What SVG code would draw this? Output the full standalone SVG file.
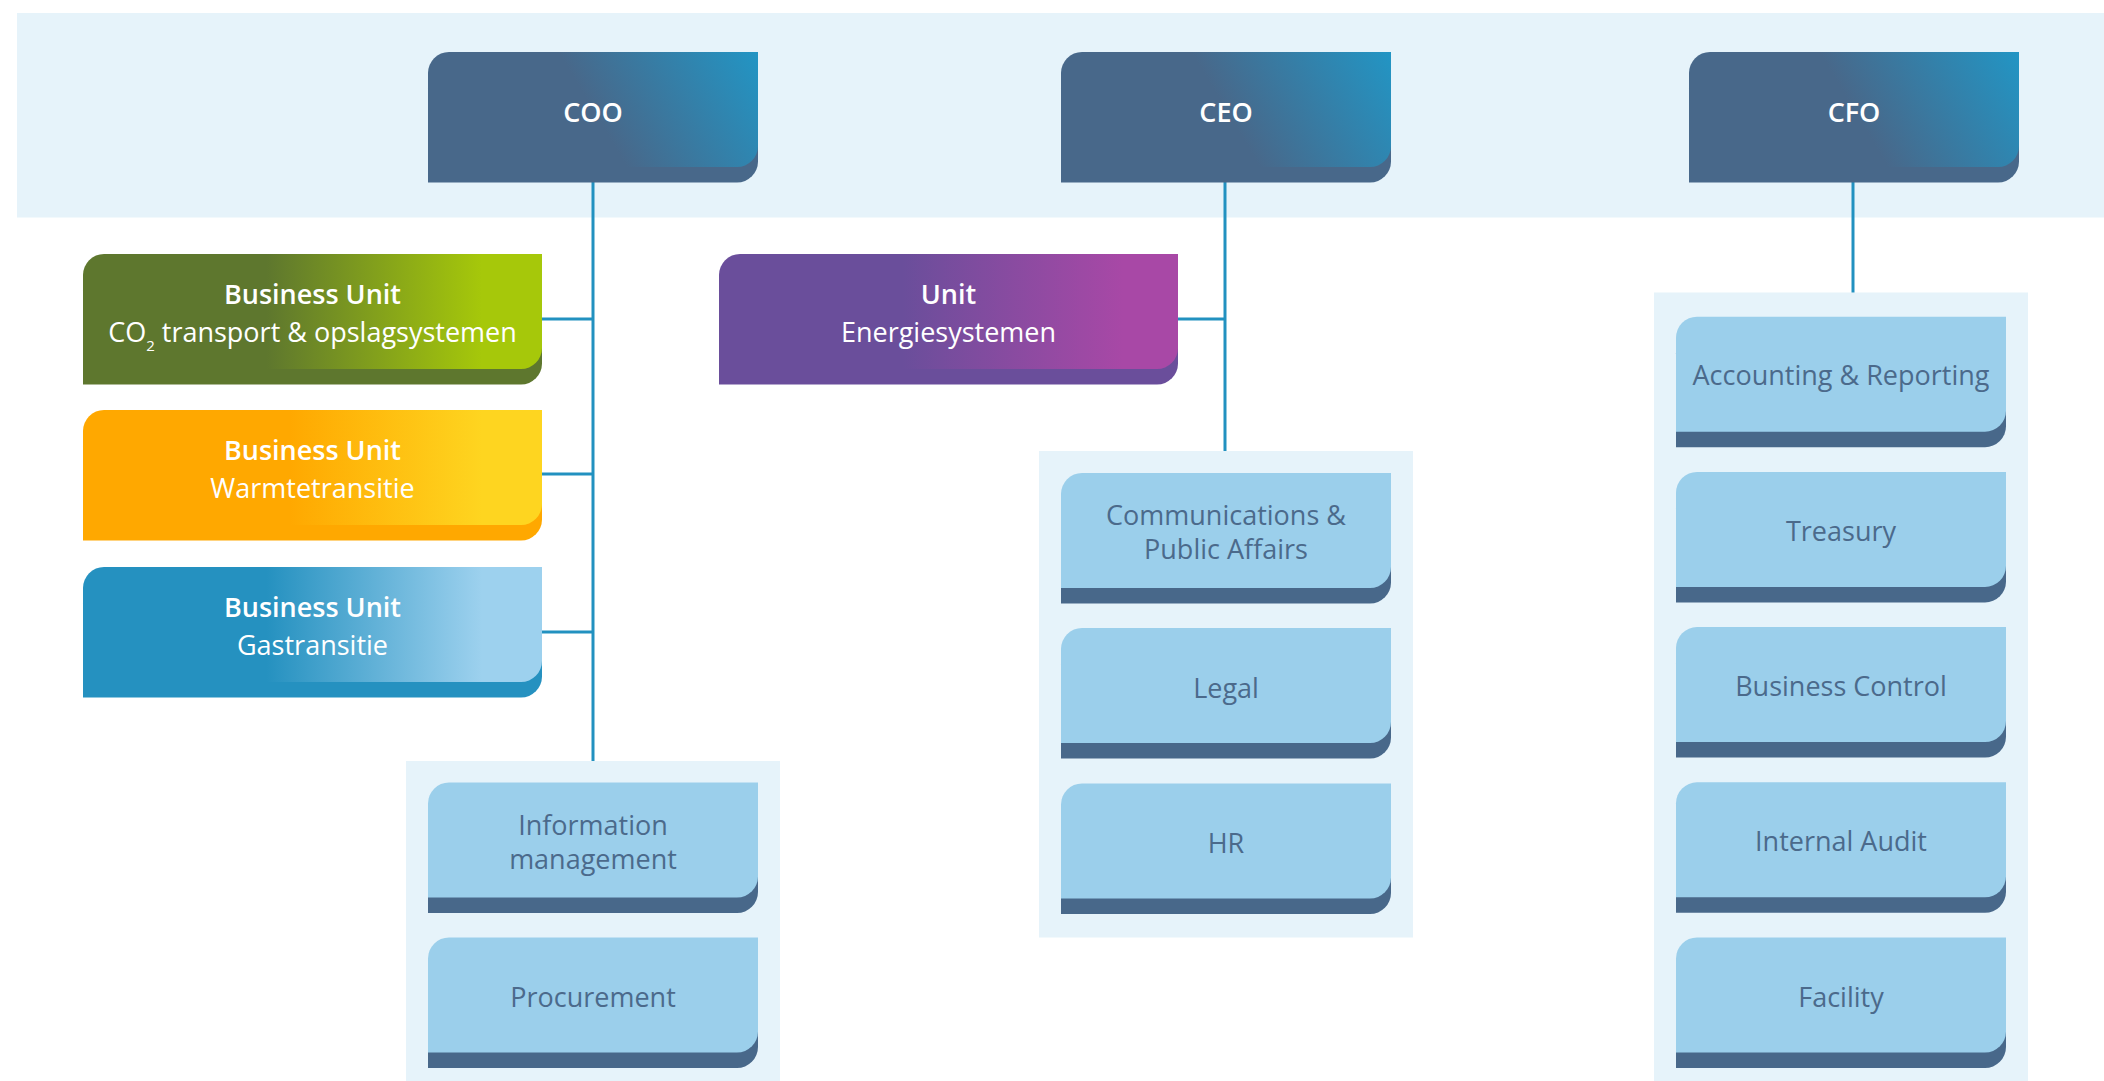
<svg xmlns="http://www.w3.org/2000/svg" width="2104" height="1081" viewBox="0 0 2104 1081">
<defs>
<style>
.bg{fill:#ffffff}
.band{fill:#e6f3fa}
.grp{fill:#e6f3fa}
.sub{fill:#9bcfeb}
.subsh{fill:#48688a}
.t{font-family:"Open Sans","Noto Sans","Liberation Sans",sans-serif;text-anchor:middle}
.lt{font-size:27px;fill:#4b6a8b}
.wt{font-size:27px;fill:#ffffff}
.b{font-weight:600}
.con{stroke:#2291c0;stroke-width:3;fill:none}
</style>
<linearGradient id="gExec" x1="0.42" y1="0.12" x2="1" y2="0">
<stop offset="0" stop-color="#48688a"/>
<stop offset="1" stop-color="#2295c4"/>
</linearGradient>
<linearGradient id="gGreen" x1="0" y1="0" x2="1" y2="0">
<stop offset="0.4" stop-color="#5e772e"/>
<stop offset="0.87" stop-color="#a6c80a"/>
</linearGradient>
<linearGradient id="gOrange" x1="0" y1="0" x2="1" y2="0">
<stop offset="0.45" stop-color="#ffa800"/>
<stop offset="0.87" stop-color="#fed520"/>
</linearGradient>
<linearGradient id="gBlue" x1="0" y1="0" x2="1" y2="0">
<stop offset="0.4" stop-color="#2591c0"/>
<stop offset="0.87" stop-color="#9dd1ee"/>
</linearGradient>
<linearGradient id="gPurple" x1="0" y1="0" x2="1" y2="0">
<stop offset="0.4" stop-color="#6a4e9b"/>
<stop offset="0.88" stop-color="#a848a6"/>
</linearGradient>
<path id="f330" d="M0,21 A21,21 0 0 1 21,0 H330 V94 A21,21 0 0 1 309,115 H0 Z"/>
<path id="f459" d="M0,21 A21,21 0 0 1 21,0 H459 V94 A21,21 0 0 1 438,115 H0 Z"/>
</defs>

<rect class="bg" x="0" y="0" width="2104" height="1081"/>
<rect class="band" x="17" y="13" width="2087" height="204.5"/>

<g id="groups">
<rect class="grp" x="406" y="761" width="374" height="320"/>
<rect class="grp" x="1039" y="451" width="374" height="486.5"/>
<rect class="grp" x="1654" y="292.5" width="374" height="788.5"/>
</g>

<g id="connectors">
<path class="con" d="M593,182 V761"/>
<path class="con" d="M542,319 H593"/>
<path class="con" d="M542,474 H593"/>
<path class="con" d="M542,632 H593"/>
<path class="con" d="M1225,182 V451"/>
<path class="con" d="M1178,319 H1225"/>
<path class="con" d="M1853,182 V292.5"/>
</g>

<g id="coo">
<use href="#f330" x="428" y="67.5" fill="#48688a"/>
<use href="#f330" x="428" y="52" fill="url(#gExec)"/>
<text class="t wt b" x="593" y="121.5">COO</text>
</g>
<g id="ceo">
<use href="#f330" x="1061" y="67.5" fill="#48688a"/>
<use href="#f330" x="1061" y="52" fill="url(#gExec)"/>
<text class="t wt b" x="1226" y="121.5">CEO</text>
</g>
<g id="cfo">
<use href="#f330" x="1689" y="67.5" fill="#48688a"/>
<use href="#f330" x="1689" y="52" fill="url(#gExec)"/>
<text class="t wt b" x="1854" y="121.5">CFO</text>
</g>

<g id="bu-co2">
<use href="#f459" x="83" y="269.5" fill="#5e772e"/>
<use href="#f459" x="83" y="254" fill="url(#gGreen)"/>
<text class="t wt b" x="312.5" y="304">Business Unit</text>
<text class="t wt" x="312.5" y="342">CO<tspan font-size="15" dy="9">2</tspan><tspan dy="-9"> transport &amp; opslagsystemen</tspan></text>
</g>
<g id="bu-warmte">
<use href="#f459" x="83" y="425.5" fill="#ffa800"/>
<use href="#f459" x="83" y="410" fill="url(#gOrange)"/>
<text class="t wt b" x="312.5" y="460">Business Unit</text>
<text class="t wt" x="312.5" y="498">Warmtetransitie</text>
</g>
<g id="bu-gas">
<use href="#f459" x="83" y="582.5" fill="#2591c0"/>
<use href="#f459" x="83" y="567" fill="url(#gBlue)"/>
<text class="t wt b" x="312.5" y="617">Business Unit</text>
<text class="t wt" x="312.5" y="655">Gastransitie</text>
</g>
<g id="unit-energie">
<use href="#f459" x="719" y="269.5" fill="#6a4e9b"/>
<use href="#f459" x="719" y="254" fill="url(#gPurple)"/>
<text class="t wt b" x="948.5" y="304">Unit</text>
<text class="t wt" x="948.5" y="342">Energiesystemen</text>
</g>

<g id="info-management">
<use href="#f330" class="subsh" x="428" y="798"/>
<use href="#f330" class="sub" x="428" y="782.5"/>
<text class="t lt" x="593" y="835">Information</text>
<text class="t lt" x="593" y="869">management</text>
</g>
<g id="procurement">
<use href="#f330" class="subsh" x="428" y="953"/>
<use href="#f330" class="sub" x="428" y="937.5"/>
<text class="t lt" x="593" y="1006.5">Procurement</text>
</g>

<g id="communications">
<use href="#f330" class="subsh" x="1061" y="488.5"/>
<use href="#f330" class="sub" x="1061" y="473"/>
<text class="t lt" x="1226" y="524.5">Communications &amp;</text>
<text class="t lt" x="1226" y="558.5">Public Affairs</text>
</g>
<g id="legal">
<use href="#f330" class="subsh" x="1061" y="643.5"/>
<use href="#f330" class="sub" x="1061" y="628"/>
<text class="t lt" x="1226" y="697.5">Legal</text>
</g>
<g id="hr">
<use href="#f330" class="subsh" x="1061" y="799"/>
<use href="#f330" class="sub" x="1061" y="783.5"/>
<text class="t lt" x="1226" y="853">HR</text>
</g>

<g id="accounting">
<use href="#f330" class="subsh" x="1676" y="332.2"/>
<use href="#f330" class="sub" x="1676" y="316.7"/>
<text class="t lt" x="1841" y="385">Accounting &amp; Reporting</text>
</g>
<g id="treasury">
<use href="#f330" class="subsh" x="1676" y="487.4"/>
<use href="#f330" class="sub" x="1676" y="471.9"/>
<text class="t lt" x="1841" y="540.5">Treasury</text>
</g>
<g id="business-control">
<use href="#f330" class="subsh" x="1676" y="642.6"/>
<use href="#f330" class="sub" x="1676" y="627.1"/>
<text class="t lt" x="1841" y="696">Business Control</text>
</g>
<g id="internal-audit">
<use href="#f330" class="subsh" x="1676" y="797.8"/>
<use href="#f330" class="sub" x="1676" y="782.3"/>
<text class="t lt" x="1841" y="851">Internal Audit</text>
</g>
<g id="facility">
<use href="#f330" class="subsh" x="1676" y="953"/>
<use href="#f330" class="sub" x="1676" y="937.5"/>
<text class="t lt" x="1841" y="1006.5">Facility</text>
</g>
</svg>
